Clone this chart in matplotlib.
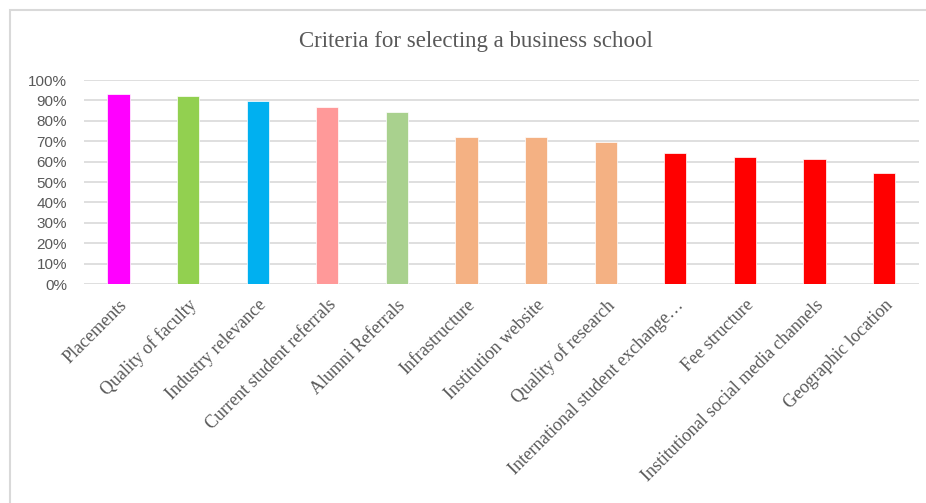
import matplotlib
matplotlib.use("Agg")
import matplotlib.pyplot as plt
from matplotlib.patches import Rectangle

categories = ["Placements", "Quality of faculty", "Industry relevance",
              "Current student referrals", "Alumni Referrals", "Infrastructure",
              "Institution website", "Quality of research",
              "International student exchange\u2026", "Fee structure",
              "Institutional social media channels", "Geographic location"]
values = [0.93, 0.92, 0.895, 0.866, 0.844, 0.72, 0.72, 0.697, 0.642, 0.622, 0.612, 0.542]
colors = ["#FF00FF", "#92D050", "#00B0F0", "#FF9999", "#A9D18E", "#F4B183",
          "#F4B183", "#F4B183", "#FF0000", "#FF0000", "#FF0000", "#FF0000"]
yticks = [0, 0.1, 0.2, 0.3, 0.4, 0.5, 0.6, 0.7, 0.8, 0.9, 1.0]
ytick_labels = [f"{int(round(t*100))}%" for t in yticks]

W, H = 926, 503
fig = plt.figure(figsize=(W/100, H/100), dpi=100)
ax = fig.add_axes([83.7/W, 1-284/H, (918.8-83.7)/W, (284-80)/H])

x = list(range(len(categories)))
ax.bar(x, values, width=0.32, color=colors, edgecolor="white", linewidth=0.5, zorder=3)
ax.set_xlim(-0.5, len(categories)-0.5)
ax.set_ylim(0, 1.0)
ax.set_yticks(yticks)
ax.set_yticklabels(ytick_labels, fontfamily="Liberation Sans", fontsize=11, color="#595959")
ax.yaxis.grid(True, color="#D9D9D9", linewidth=1.2, zorder=0)
ax.set_axisbelow(True)
for s in ax.spines.values():
    s.set_visible(False)
ax.tick_params(axis="both", length=0)
ax.tick_params(axis="y", pad=12)
ax.set_xticks(x)
ax.set_xticklabels(categories, rotation=45, ha="right", rotation_mode="anchor",
                   fontfamily="Liberation Serif", fontsize=13, color="#595959")
ax.tick_params(axis="x", pad=9)

fig.text(476/W, 1-42/H, "Criteria for selecting a business school", ha="center", va="center",
         fontfamily="Liberation Serif", fontsize=16.5, color="#595959")

fig.patches.append(Rectangle((10/W, -0.1), 1.2, 1-10/H+0.1, transform=fig.transFigure,
                             fill=False, edgecolor="#D9D9D9", linewidth=1.5))

fig.savefig("out.png", dpi=100)
